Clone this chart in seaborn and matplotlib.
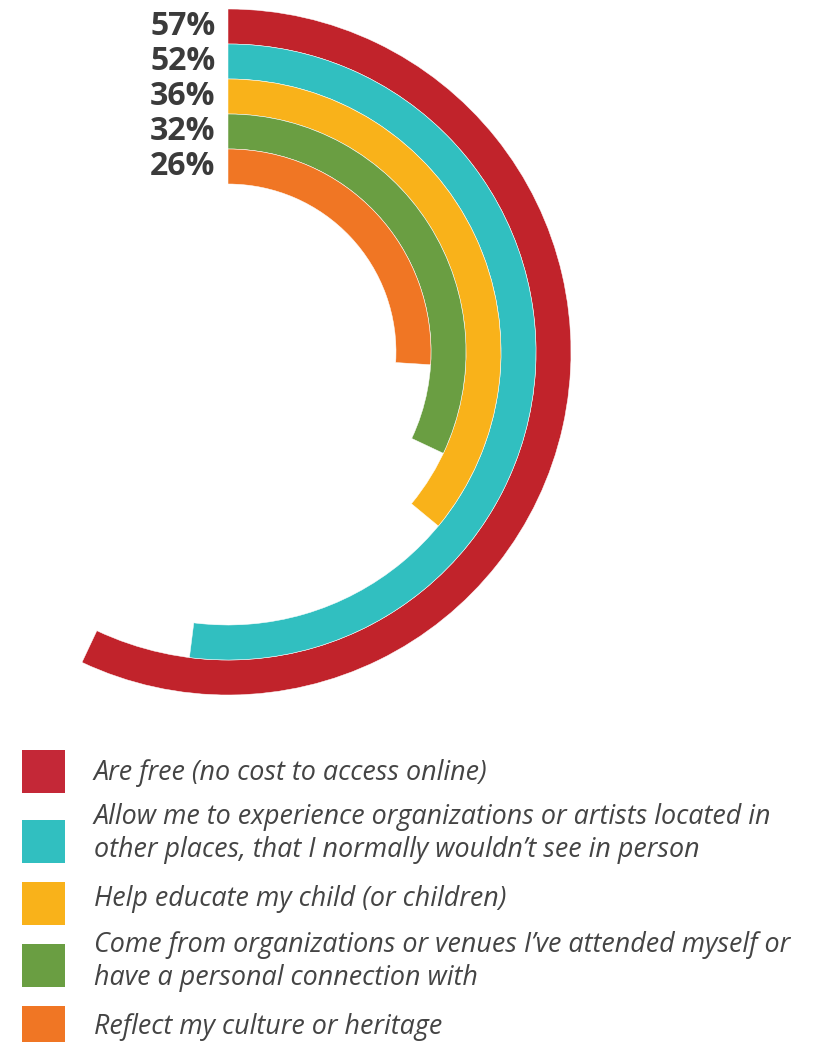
import numpy as np
import matplotlib
matplotlib.use("Agg")
import matplotlib.pyplot as plt
from matplotlib.patches import Rectangle
import seaborn as sns

# ---- data ----
categories = [
    "Are free (no cost to access online)",
    "Allow me to experience organizations or artists located in\nother places, that I normally wouldn\u2019t see in person",
    "Help educate my child (or children)",
    "Come from organizations or venues I\u2019ve attended myself or\nhave a personal connection with",
    "Reflect my culture or heritage",
]
values = [57, 52, 36, 32, 26]
value_labels = ["57%", "52%", "36%", "32%", "26%"]
colors = ["#C1232B", "#31BFC0", "#F9B21A", "#6A9E42", "#F07624"]
legend_colors = ["#C42837", "#31BFC0", "#F9B21A", "#6A9E42", "#F07624"]

sns.set_theme(style="white")
plt.rcParams["font.family"] = ["Open Sans", "DejaVu Sans"]

W, H = 821, 1042
fig = plt.figure(figsize=(W / 100, H / 100), dpi=100)

# polar axes geometry (pixels)
cx, cy, R = 228, 352, 345
ax = fig.add_axes([(cx - R) / W, (H - cy - R) / H, 2 * R / W, 2 * R / H], projection="polar")
ax.set_theta_zero_location("N")
ax.set_theta_direction(-1)
ax.set_ylim(0, R)
ax.set_axis_off()

ring_w = 35
inner0 = 168
n = len(values)
radii = [inner0 + ring_w * (n - 1 - i) + ring_w / 2 for i in range(n)]
angles = [v / 100 * 2 * np.pi for v in values]

ax.barh(radii, angles, left=0, height=ring_w, color=colors,
        edgecolor="white", linewidth=0.35, align="center")

for r, lab in zip(radii, value_labels):
    ax.annotate(lab, xy=(0, r), xytext=(-9, 0), textcoords="offset points",
                ha="right", va="center", fontsize=23, fontweight="bold",
                color="#3b3b3b", annotation_clip=False)

# legend in pixel coordinates
lax = fig.add_axes([0, 0, 1, 1])
lax.set_xlim(0, W)
lax.set_ylim(H, 0)
lax.set_axis_off()

sq_tops = [750, 820, 882, 944, 1006]
text_base = [780, 824, 906, 952, 1034]
line_gap = 33
for cat, col, top, base in zip(categories, legend_colors, sq_tops, text_base):
    lax.add_patch(Rectangle((22, top), 43, 43, facecolor=col, edgecolor="none"))
    for k, line in enumerate(cat.split("\n")):
        lax.text(94, base + k * line_gap, line, ha="left", va="baseline",
                 fontsize=19.4, fontstyle="italic", color="#444444")

fig.savefig("out.png", dpi=100, facecolor="white")
